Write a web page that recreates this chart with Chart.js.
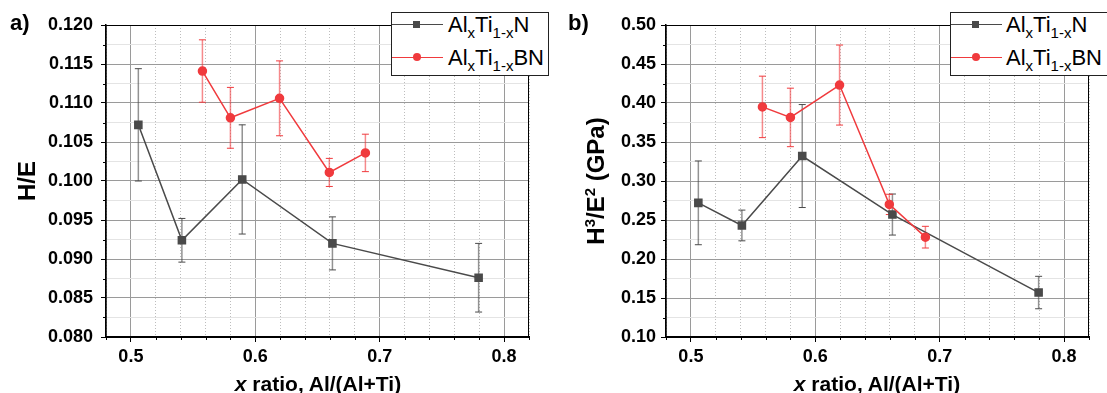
<!DOCTYPE html>
<html>
<head>
<meta charset="utf-8">
<script src="https://cdn.jsdelivr.net/npm/chart.js@4"></script>
<style>
  html, body { margin: 0; padding: 0; background: #fff; }
  body { width: 1107px; height: 393px; position: relative; overflow: hidden;
         font-family: "Liberation Sans", Arial, sans-serif; }
  canvas { position: absolute; top: 0; }
  #chartA { left: 0; }
  #chartB { left: 553px; }
  .lbl { position: absolute; font-weight: bold; color: #000; white-space: nowrap; line-height: 1; }
  .panel { font-size: 22px; }
  .ytitle { font-size: 24px; transform: translate(-50%, -50%) rotate(-90deg); }
  .ytitle sup { font-size: 15px; vertical-align: baseline; position: relative; top: -9px; }
  .xtitle { font-size: 21px; transform: translate(-50%, -50%); }
  .legend { position: absolute; top: 12px; height: 64px; background: #fff;
            border: 1px solid #222; box-sizing: border-box; }
  .legend .line { position: absolute; left: 0; width: 51px; height: 1.5px; }
  .legend .mark { position: absolute; }
  .legend .txt { position: absolute; font-size: 22px; line-height: 1; white-space: nowrap; color: #000; }
  .legend sub { font-size: 15px; vertical-align: baseline; position: relative; top: 6px; }
</style>
</head>
<body>
<canvas id="chartA" width="553" height="393"></canvas>
<canvas id="chartB" width="554" height="393"></canvas>

<div class="lbl panel" style="left:10px;top:12px">a)</div>
<div class="lbl panel" style="left:568px;top:12px">b)</div>
<div class="lbl ytitle" style="left:27px;top:181px">H/E</div>
<div class="lbl ytitle" style="left:596px;top:181px">H<sup>3</sup>/E<sup>2</sup> (GPa)</div>
<div class="lbl xtitle" style="left:318px;top:383px"><i>x</i> ratio, Al/(Al+Ti)</div>
<div class="lbl xtitle" style="left:877px;top:383px"><i>x</i> ratio, Al/(Al+Ti)</div>

<div class="legend" id="legA" style="left:391px;width:158px"></div>
<div class="legend" id="legB" style="left:950px;width:175px"></div>

<script>
// Al fraction of each coating
const xN = [0.506, 0.541, 0.5895, 0.662, 0.7795];
const xBN = [0.5575, 0.58, 0.6195, 0.6595, 0.6885];

// H/E with standard deviations
const heN = [0.1072, 0.0924, 0.1002, 0.0920, 0.0876];
const heNErr = [0.0072, 0.0028, 0.0070, 0.0034, 0.0044];
const heBN = [0.1141, 0.1081, 0.1106, 0.1011, 0.1036];
const heBNErr = [0.0040, 0.0039, 0.0048, 0.0018, 0.0024];

// H^3/E^2 (GPa) with standard deviations
const h3e2N = [0.272, 0.243, 0.332, 0.257, 0.157];
const h3e2NErr = [0.0537, 0.0197, 0.0660, 0.0263, 0.0208];
const h3e2BN = [0.395, 0.3815, 0.423, 0.270, 0.228];
const h3e2BNErr = [0.0394, 0.0375, 0.0513, 0.0130, 0.0139];

const seriesNames = ['Al<sub>x</sub>Ti<sub>1-x</sub>N', 'Al<sub>x</sub>Ti<sub>1-x</sub>BN'];

const GREY = '#4a4a4a';
const RED = '#f03a3d';

Chart.defaults.font.family = "'Liberation Sans', Arial, sans-serif";
Chart.defaults.font.size = 18;
Chart.defaults.font.weight = 'bold';
Chart.defaults.color = '#000';

function onStep(v, step) {
  return Math.abs(v / step - Math.round(v / step)) < 1e-6;
}

function points(xs, ys) {
  return xs.map((x, i) => ({ x, y: ys[i] }));
}

const errorBars = {
  id: 'errorBars',
  beforeDatasetsDraw(chart) {
    const { ctx, scales: { y } } = chart;
    chart.data.datasets.forEach((ds, i) => {
      const meta = chart.getDatasetMeta(i);
      ctx.save();
      meta.data.forEach((pt, j) => {
        const v = ds.data[j].y;
        const e = ds.errors[j];
        const top = y.getPixelForValue(v + e);
        const bot = y.getPixelForValue(v - e);
        ctx.strokeStyle = ds.barColor;
        ctx.lineWidth = 1.5;
        ctx.beginPath();
        ctx.moveTo(pt.x, top);
        ctx.lineTo(pt.x, bot);
        ctx.stroke();
        ctx.strokeStyle = ds.borderColor;
        ctx.lineWidth = 1;
        ctx.beginPath();
        ctx.moveTo(pt.x - 3.5, top);
        ctx.lineTo(pt.x + 3.5, top);
        ctx.moveTo(pt.x - 3.5, bot);
        ctx.lineTo(pt.x + 3.5, bot);
        ctx.stroke();
      });
      ctx.restore();
    });
  },
};

// box around the plot plus the short minor ticks
const frame = {
  id: 'frame',
  afterDraw(chart, args, opts) {
    const { ctx, chartArea: a, scales: { x, y } } = chart;
    ctx.save();
    ctx.strokeStyle = '#000';
    ctx.lineWidth = 1;
    ctx.strokeRect(a.left, a.top + 0.5, a.right - a.left - 0.5, a.bottom - a.top);
    ctx.beginPath();
    x.ticks.forEach(t => {
      if (onStep(t.value, opts.xMajor)) return;
      const px = Math.round(x.getPixelForValue(t.value)) + 0.5;
      ctx.moveTo(px, a.bottom);
      ctx.lineTo(px, a.bottom + 3);
    });
    y.ticks.forEach(t => {
      if (onStep(t.value, opts.yMajor)) return;
      const py = Math.round(y.getPixelForValue(t.value)) + 0.5;
      ctx.moveTo(a.left, py);
      ctx.lineTo(a.left - 3, py);
    });
    ctx.stroke();
    ctx.restore();
  },
};

function drawPanel(canvas, nVals, nErr, bnVals, bnErr, { yMin, yMax, yStep, yMajor, digits, axisWidth, rightPad, labelPad }) {
  return new Chart(canvas, {
    type: 'scatter',
    data: {
      datasets: [
        {
          data: points(xN, nVals),
          errors: nErr,
          barColor: 'rgba(74,74,74,0.6)',
          borderColor: GREY,
          backgroundColor: GREY,
          pointStyle: 'rect',
          pointRadius: 5,
          borderWidth: 1.5,
          showLine: true,
          order: 2,
        },
        {
          data: points(xBN, bnVals),
          errors: bnErr,
          barColor: 'rgba(240,58,61,0.6)',
          borderColor: RED,
          backgroundColor: RED,
          pointStyle: 'circle',
          pointRadius: 4,
          borderWidth: 1.5,
          showLine: true,
          order: 1,
        },
      ],
    },
    options: {
      responsive: false,
      animation: false,
      layout: { padding: { left: 0, right: rightPad, top: 25, bottom: 0 } },
      plugins: { legend: { display: false }, tooltip: { enabled: false }, frame: { xMajor: 0.1, yMajor } },
      scales: {
        x: {
          type: 'linear',
          min: 0.48,
          max: 0.82,
          afterFit: s => { s.height = 56; },
          ticks: {
            stepSize: 0.02,
            autoSkip: false,
            maxRotation: 0,
            padding: 4,
            callback: v => (onStep(v, 0.1) ? v.toFixed(1) : ''),
          },
          grid: {
            color: c => (c.tick && onStep(c.tick.value, 0.1) ? '#9a9a9a' : '#bdbdbd'),
            tickColor: c => (c.tick && onStep(c.tick.value, 0.1) ? '#000' : 'rgba(0,0,0,0)'),
            tickLength: 5,
          },
          border: {
            color: '#000',
            width: 1.5,
            dash: c => (c.tick && !onStep(c.tick.value, 0.1) ? [1, 2] : []),
          },
        },
        y: {
          min: yMin,
          max: yMax,
          afterFit: s => { s.width = axisWidth; },
          ticks: {
            stepSize: yStep,
            autoSkip: false,
            padding: labelPad,
            callback: v => (onStep(v, yMajor) ? v.toFixed(digits) : ''),
          },
          grid: {
            color: c => (c.tick && onStep(c.tick.value, yMajor) ? '#9a9a9a' : '#e4e4e4'),
            tickColor: c => (c.tick && onStep(c.tick.value, yMajor) ? '#000' : 'rgba(0,0,0,0)'),
            tickLength: 5,
          },
          border: { color: '#000', width: 1.5 },
        },
      },
    },
    plugins: [errorBars, frame],
  });
}

const chartA = drawPanel(document.getElementById('chartA'), heN, heNErr, heBN, heBNErr, {
  yMin: 0.08, yMax: 0.12, yStep: 0.0025, yMajor: 0.005, digits: 3,
  axisWidth: 106, rightPad: 24, labelPad: 8,
});
const chartB = drawPanel(document.getElementById('chartB'), h3e2N, h3e2NErr, h3e2BN, h3e2BNErr, {
  yMin: 0.1, yMax: 0.5, yStep: 0.025, yMajor: 0.05, digits: 2,
  axisWidth: 113, rightPad: 18, labelPad: 5,
});

// legend boxes, built from the same series styles
function buildLegend(el, textLeft) {
  const rows = [
    { name: seriesNames[0], color: GREY, round: false, size: 7, y: 11.3 },
    { name: seriesNames[1], color: RED, round: true, size: 8, y: 44.3 },
  ];
  el.innerHTML = rows.map(r => `
    <div class="line" style="top:${r.y - 0.75}px;background:${r.color}"></div>
    <div class="mark" style="left:${24.5 - r.size / 2}px;top:${r.y - r.size / 2}px;width:${r.size}px;height:${r.size}px;background:${r.color};border-radius:${r.round ? '50%' : '0'}"></div>
    <div class="txt" style="left:${textLeft}px;top:${r.y - 10.5}px">${r.name}</div>`).join('');
}
buildLegend(document.getElementById('legA'), 56);
buildLegend(document.getElementById('legB'), 55);
</script>
</body>
</html>
